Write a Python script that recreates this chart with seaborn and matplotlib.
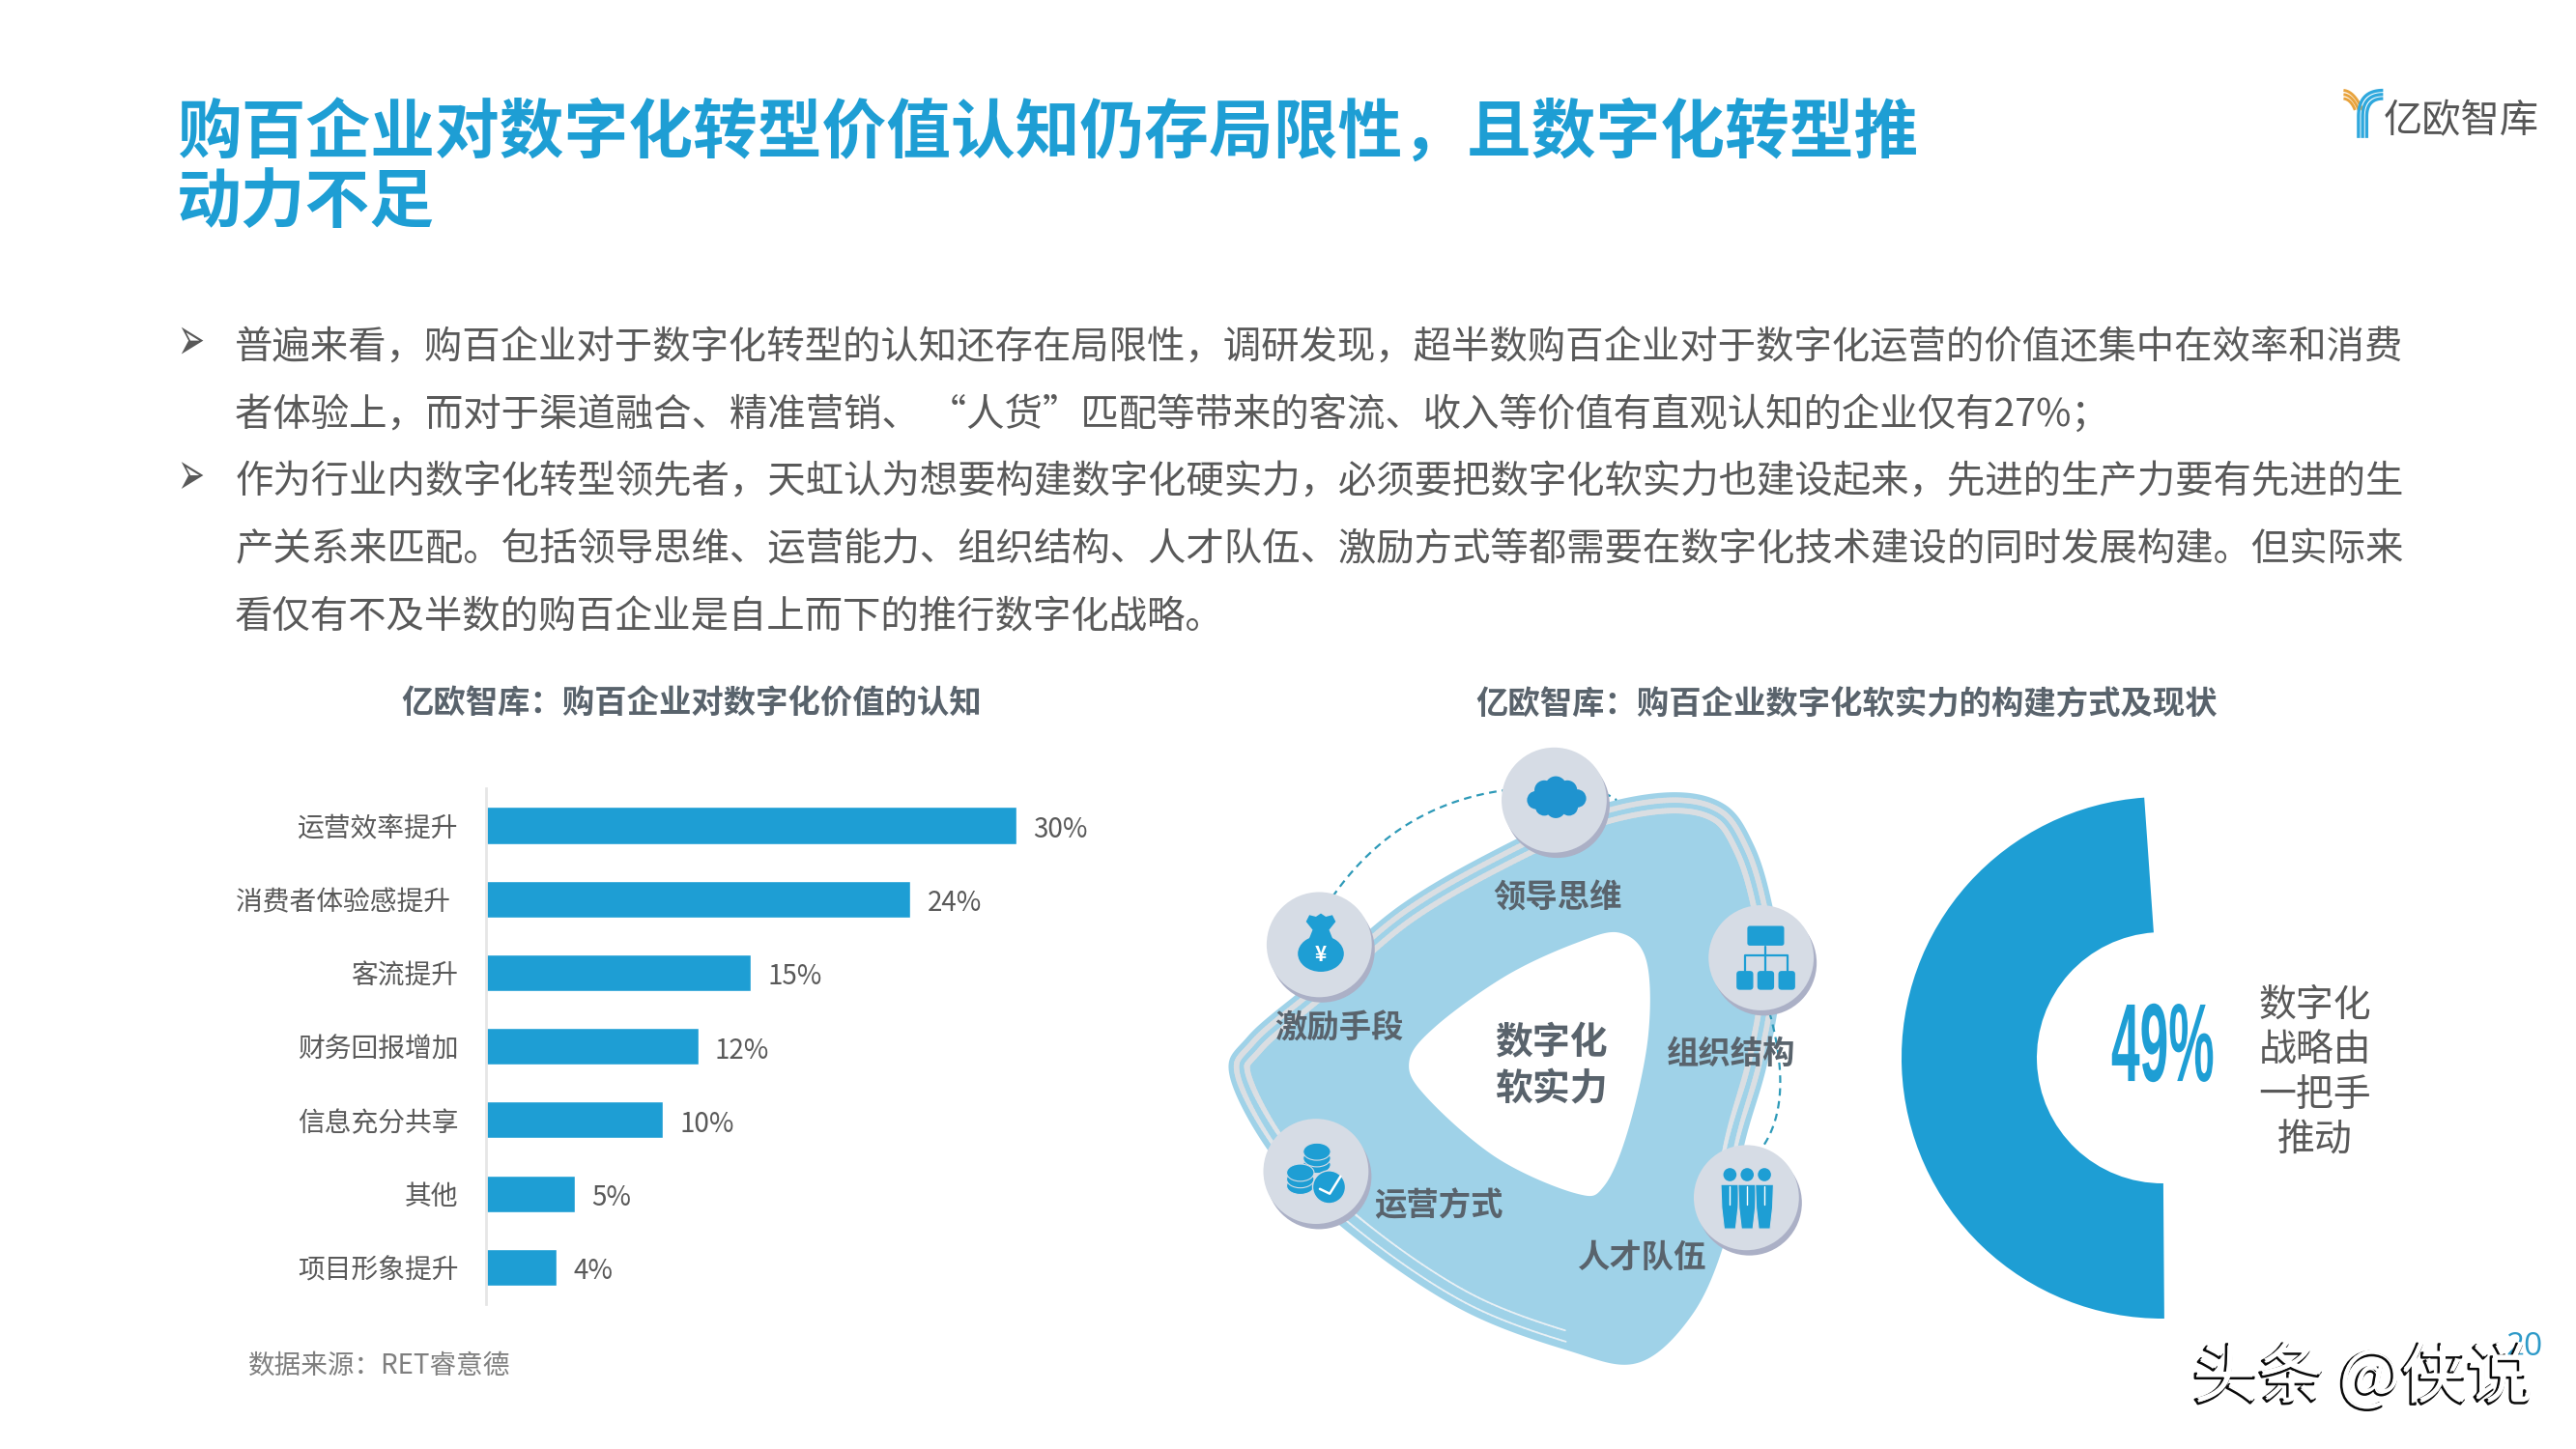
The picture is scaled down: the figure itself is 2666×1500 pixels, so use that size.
import numpy as np
import matplotlib
matplotlib.use("Agg")
import matplotlib.pyplot as plt
import matplotlib.patches as mp
import matplotlib.patheffects as pe
from matplotlib.collections import LineCollection
from matplotlib.transforms import Affine2D
import seaborn as sns

# ---- data ----
title_lines = ["购百企业对数字化转型价值认知仍存局限性，且数字化转型推", "动力不足"]
body_lines = [
    "普遍来看，购百企业对于数字化转型的认知还存在局限性，调研发现，超半数购百企业对于数字化运营的价值还集中在效率和消费",
    "者体验上，而对于渠道融合、精准营销、 “人货”匹配等带来的客流、收入等价值有直观认知的企业仅有27%；",
    "作为行业内数字化转型领先者，天虹认为想要构建数字化硬实力，必须要把数字化软实力也建设起来，先进的生产力要有先进的生",
    "产关系来匹配。包括领导思维、运营能力、组织结构、人才队伍、激励方式等都需要在数字化技术建设的同时发展构建。但实际来",
    "看仅有不及半数的购百企业是自上而下的推行数字化战略。",
]
bar_title = "亿欧智库：购百企业对数字化价值的认知"
ring_title = "亿欧智库：购百企业数字化软实力的构建方式及现状"
categories = ["运营效率提升", "消费者体验感提升 \u200a", "客流提升", "财务回报增加", "信息充分共享", "其他", "项目形象提升"]
values = [30, 24, 15, 12, 10, 5, 4]
source = "数据来源：RET睿意德"
ring_share = [49, 51]
ring_caption = ["数字化", "战略由", "一把手", "推动"]

BLUE = "#1E9ED4"
GREY = "#595959"
HEAD = "#59636C"
W, H, SX = 2666, 1500, 1568
SY = 882

sns.set_theme(style="white")
plt.rcParams["font.family"] = ["Noto Sans CJK SC", "DejaVu Sans"]
plt.rcParams["axes.unicode_minus"] = False

fig = plt.figure(figsize=(W / 100, H / 100), dpi=100, facecolor="white")


def px_axes(x0, y0, x1, y1, **kw):
    return fig.add_axes([x0 / W, 1 - y1 / H, (x1 - x0) / W, (y1 - y0) / H], **kw)


# ---- bar chart ----
ax = px_axes(503, 816.4, 503 + 18.3 * 40, 1350)
ax.patch.set_alpha(0)
sns.barplot(x=values, y=categories, color=BLUE, saturation=1, width=0.5, ax=ax, orient="h")
ax.set_xlim(0, 40)
ax.set_xlabel("")
ax.set_ylabel("")
ax.set_xticks([])
ax.tick_params(axis="y", length=0, pad=20.5, labelsize=20, labelcolor=GREY)
sns.despine(ax=ax, left=False, bottom=True)
ax.spines["left"].set_color("#E6E6E6")
ax.spines["left"].set_linewidth(2)
for t in ax.bar_label(ax.containers[0], fmt="%d%%", padding=12, fontsize=20, color=GREY):
    t.xyann = (12.5, -3.2)

# ---- half ring ----
R = 270
cx, cy = 2238, 1095
rax = px_axes(cx - R, cy - R, cx + R, cy + R)
rax.pie(ring_share, colors=[BLUE, "none"], startangle=94, radius=1,
        wedgeprops=dict(width=1 - 130 / 270, linewidth=0))
rax.set_xlim(-1, 1)
rax.set_ylim(-1, 1)

# ---- overlay in picture coordinates ----
bg = px_axes(0, 0, W, H)
bg.set_xlim(0, SX)
bg.set_ylim(SY, 0)
bg.axis("off")
bg.set_zorder(5)


class Stretch(pe.AbstractPathEffect):
    """Rescale a real text object about a fixed point given in picture coordinates."""

    def __init__(self, sx=1.0, sy=1.0, about=None):
        super().__init__()
        self.sx, self.sy, self.about = sx, sy, about

    def draw_path(self, renderer, gc, tpath, affine, rgbFace=None):
        x0, y0 = affine.transform((0, 0))
        if self.about is not None:
            x0, y0 = bg.transData.transform(self.about)
        t = affine + Affine2D().translate(-x0, -y0).scale(self.sx, self.sy).translate(x0, y0)
        renderer.draw_path(gc, tpath, t, rgbFace)


bg.text(107.5, 82, title_lines[0], fontsize=48.05, fontweight="bold", color=BLUE, va="center", ha="left")
bg.text(107.5, 124, title_lines[1], fontsize=48.05, fontweight="bold", color=BLUE, va="center", ha="left")

for text, y in zip(body_lines, [212, 253, 294, 335, 376]):
    bg.text(143, y, text, fontsize=28.4, color=GREY, va="center", ha="left")
for y in [209.5, 291.5]:
    tb = bg.text(116.5, y + 5, "➢", fontsize=24, color=GREY, va="baseline", ha="center", family=["DejaVu Sans"])
    tb.set_path_effects([Stretch(sy=1.9, about=(116.5, y))])

bg.text(421, 429, bar_title, fontsize=24, fontweight="bold", color=HEAD, ha="center", va="center")
bg.text(1124, 429, ring_title, fontsize=24, fontweight="bold", color=HEAD, ha="center", va="center")
bg.text(151, 831, source, fontsize=19.9, color="#7F7F7F", ha="left", va="center")


def z2(pts):
    p = np.array(pts, float)
    return np.c_[(1240 + p[:, 0] / 1.1) / 1.7, (680 + p[:, 1] / 1.91) / 1.7]


def smooth(p, n=24):
    out = []
    N = len(p)
    for i in range(N):
        p0, p1, p2, p3 = p[(i - 1) % N], p[i], p[(i + 1) % N], p[(i + 2) % N]
        for t in np.linspace(0, 1, n, endpoint=False):
            out.append(0.5 * (2 * p1 + (p2 - p0) * t + (2 * p0 - 5 * p1 + 4 * p2 - p3) * t ** 2
                              + (3 * p1 - p0 - 3 * p2 + p3) * t ** 3))
    return np.array(out)


def inset(curve, d):
    tang = np.roll(curve, -2, axis=0) - np.roll(curve, 2, axis=0)
    tang /= np.linalg.norm(tang, axis=1, keepdims=True)
    nrm = np.c_[-tang[:, 1], tang[:, 0]]
    if np.mean(np.sum((curve.mean(axis=0) - curve) * nrm, axis=1)) < 0:
        nrm = -nrm
    return curve + d * nrm


outer = smooth(z2([(540, 267), (600, 292), (632, 370), (652, 480), (664, 620), (648, 800), (622, 960),
                   (600, 1150), (562, 1300), (500, 1395), (420, 1370), (300, 1290), (180, 1150),
                   (90, 1000), (36, 830), (56, 750), (130, 640), (230, 490), (350, 370), (450, 295)]))
hole = smooth(z2([(480, 545), (510, 600), (512, 750), (490, 930), (462, 1045), (430, 1060), (340, 990),
                  (260, 870), (240, 800), (270, 730), (350, 630), (430, 565)]))
bg.add_patch(mp.Polygon(outer, closed=True, fc="#9FD2E8", ec="none", zorder=1))
for d, base in [(4.8, 4.0), (11.2, 4.2)]:
    c = inset(outer, d)
    segs = np.stack([c, np.roll(c, -1, axis=0)], axis=1)
    fade = np.clip((c[:, 1] - 660) / 90, 0, 1)
    lw = base * (1 - fade) + 1.3 * fade
    col = np.array(matplotlib.colors.to_rgba("#DADEE2")) * np.ones((len(c), 4))
    col[:, :3] = col[:, :3] * (1 - fade[:, None]) + np.array([0.91, 0.94, 0.96]) * fade[:, None]
    col[:, 3] = np.where((c[:, 1] > 745) & (c[:, 0] > 955), 0, 1)
    bg.add_collection(LineCollection(segs, colors=col, linewidths=lw, zorder=2, capstyle="round"))
bg.add_patch(mp.Polygon(hole, closed=True, fc="white", ec="none", zorder=4))


def quad(a, b, c, n=50):
    t = np.linspace(0, 1, n)[:, None]
    a, b, c = map(np.array, (a, b, c))
    return (1 - t) ** 2 * a + 2 * t * (1 - t) * b + t ** 2 * c


DASH = "#2E9AB8"
for a, b, c in [((811, 546), (850, 490), (916, 481)), ((976, 483), (980, 484), (984, 487)),
                ((1077, 616), (1092, 670), (1073, 698))]:
    q = quad(a, b, c)
    bg.plot(q[:, 0], q[:, 1], color=DASH, lw=1.6, ls=(0, (3.5, 2.5)), zorder=5)

nodes = [(946, 487), (803, 575), (1072, 583), (1063, 729), (801, 713)]
for x, y in nodes:
    bg.add_patch(mp.Circle((x + 1.8, y + 3.2), 32, fc="#ABB0C6", ec="none", zorder=6))
    bg.add_patch(mp.Circle((x, y), 32, fc="#D6DCE5", ec="none", zorder=7))

Z = 8
# cloud
for x, y, r in [(935, 487, 5.5), (940, 481, 6), (947, 479, 6.5), (954, 481, 6), (960, 486, 5.5),
                (940, 491, 5.5), (947, 492, 6), (955, 491, 5.5), (947, 486, 8)]:
    bg.add_patch(mp.Circle((x, y), r, fc="#1F93CF", ec="none", zorder=Z))
# money bag
bg.add_patch(mp.Ellipse((804, 580.5), 28, 22, fc=BLUE, ec="none", zorder=Z))
bg.add_patch(mp.Polygon([(797, 557), (801, 558), (804, 556), (807, 558), (811, 557), (813, 561), (809, 566),
                         (811, 571), (797, 571), (799, 566), (795, 561)],
                        fc=BLUE, ec="none", zorder=Z))
bg.text(804, 581, "¥", color="white", fontsize=15, fontweight="bold", ha="center", va="center", zorder=Z + 1)
# organisation
bg.add_patch(mp.FancyBboxPatch((1063.6, 563.6), 22.4, 12, boxstyle="round,pad=0,rounding_size=1.5", fc=BLUE, ec="none", zorder=Z))
bg.plot([1074.6, 1074.6], [576, 591], color=BLUE, lw=1.6, zorder=Z)
bg.plot([1062, 1062, 1088, 1088], [591, 581.7, 581.7, 591], color=BLUE, lw=1.6, zorder=Z)
for x in [1057, 1069.7, 1082.5]:
    bg.add_patch(mp.FancyBboxPatch((x, 591), 10.2, 11.5, boxstyle="round,pad=0,rounding_size=2", fc=BLUE, ec="none", zorder=Z))
# people
for x in [1053, 1063.5, 1074]:
    bg.add_patch(mp.Circle((x, 715), 4, fc=BLUE, ec="none", zorder=Z))
    bg.add_patch(mp.Polygon([(x - 5.5, 721), (x + 5.5, 721), (x + 5, 735), (x + 3.5, 748), (x - 3.5, 748), (x - 5, 735)],
                            fc=BLUE, ec="#D6DCE5", lw=0.8, zorder=Z))
    bg.plot([x, x], [722, 733], color="white", lw=1, zorder=Z + 1)
# coins
for (x, y0) in [(801.6, 701), (791.5, 713.8)]:
    for i in [2, 1, 0]:
        bg.add_patch(mp.Ellipse((x, y0 + i * 4), 16.7, 10.5, fc=BLUE, ec="#D6DCE5", lw=0.8, zorder=Z))
bg.add_patch(mp.Circle((809, 722.6), 10, fc=BLUE, ec="#D6DCE5", lw=1, zorder=Z + 1))
bg.plot([803.4, 809.4, 816], [723.7, 726.6, 716], color="white", lw=1.8, zorder=Z + 2)

for s, x, y in [("领导思维", 948, 547), ("激励手段", 815, 626), ("组织结构", 1054, 642),
                ("运营方式", 876, 734), ("人才队伍", 999, 766)]:
    bg.text(x, y, s, fontsize=24, fontweight="bold", color=HEAD, ha="center", va="center", zorder=12)
bg.text(944, 635, "数字化", fontsize=28, fontweight="bold", color=HEAD, ha="center", va="center", zorder=12)
bg.text(944, 663, "软实力", fontsize=28, fontweight="bold", color=HEAD, ha="center", va="center", zorder=12)

for s, y in zip(ring_caption, [612, 639, 667, 694]):
    bg.text(1409, y, s, fontsize=28, color=GREY, ha="center", va="center", zorder=12)

t49 = bg.text(1316.5, 658, f"{ring_share[0]}%", fontsize=60, fontweight="bold", color=BLUE,
              ha="center", va="baseline", zorder=12, family=["Liberation Sans"])
t49.set_path_effects([Stretch(sx=0.64, sy=1.38, about=(1316.5, 658))])

# ---- logo ----
for i in range(3):
    off = i * 2.5
    xs = 1435.6 + off
    ys = 55 + off
    q = quad((xs, 71), (xs, ys), (1450.6, ys))
    bg.plot(np.r_[xs, q[:, 0]], np.r_[84, q[:, 1]], color="#2FA8DD", lw=2.4, solid_capstyle="butt", zorder=3)
for i in range(3):
    off = i * 2.5
    q = quad((1426.5, 55 + off), (1433 - off * 0.4, 55.5 + off), (1438 - off * 0.9, 67))
    bg.plot(q[:, 0], q[:, 1], color="#E8A33D", lw=2.1, solid_capstyle="butt", zorder=2)
bg.text(1451, 74, "亿欧智库", fontsize=29, color="#555555", ha="left", va="center", zorder=3)

# ---- page number and watermark ----
bg.text(1536.5, 820, "20", fontsize=24, color="#2E9AC8", ha="center", va="center", zorder=13,
        family=["Open Sans", "DejaVu Sans"])
wm = bg.text(1438.5, 839, "头条 @侠说", fontsize=49, color="white", ha="center", va="center", zorder=14)
wm.set_path_effects([pe.Stroke(linewidth=1.8, foreground="#0A0A0A", offset=(-1.5, -1.5)),
                     pe.Normal()])

fig.savefig("out.png", dpi=100, facecolor="white")
